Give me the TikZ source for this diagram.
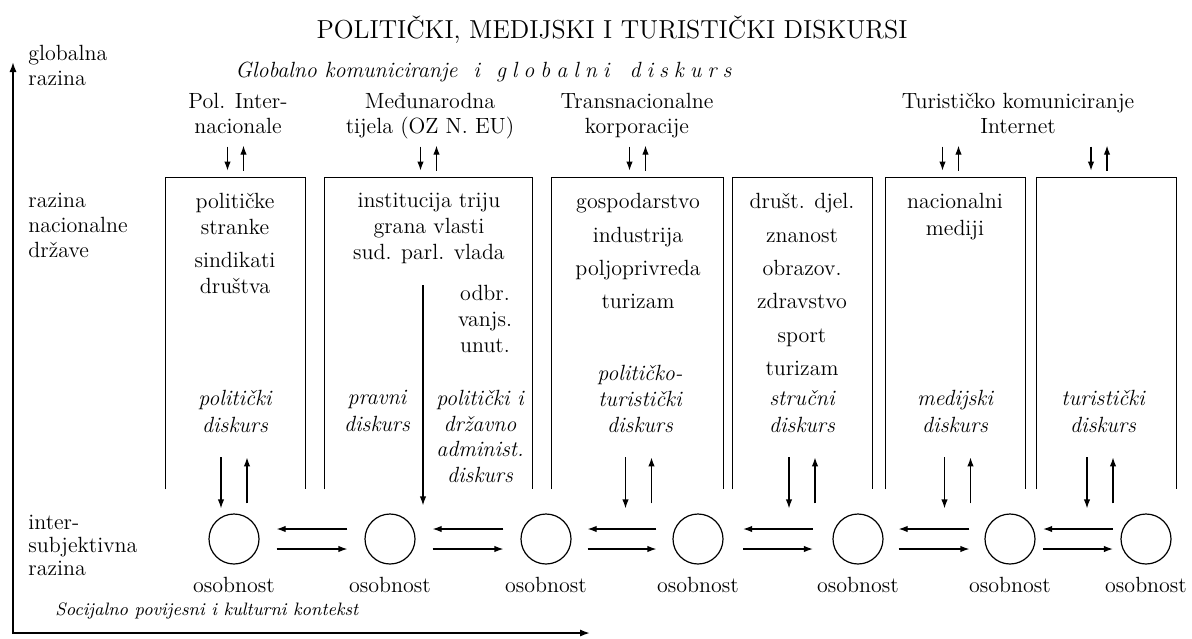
\documentclass[tikz,border=0pt]{standalone}
\usepackage{fontspec}
\usepackage{tikz}
\usetikzlibrary{arrows.meta, positioning, calc}

\begin{document}
\begin{tikzpicture}[
        x=0.5pt, y=-0.5pt,
        every node/.style={inner sep=0pt},
        txt/.style={font=\fontsize{11}{12.5}\selectfont, align=center, anchor=north},
        lefttxt/.style={font=\fontsize{11}{12.5}\selectfont, align=left, anchor=north west},
        disk/.style={font=\fontsize{11}{13.5}\selectfont\itshape, align=center, anchor=north},
        column/.style={rectangle, minimum height=155.5pt},
        person/.style={circle, draw=black, line width=0.6pt, minimum size=25pt},
        arrow/.style={-{Latex[length=4.5pt, width=3.2pt]}, line width=0.6pt},
        axis/.style={{Latex[length=5pt, width=3.6pt]}-{Latex[length=5pt, width=3.6pt]}, line width=0.9pt}
    ]
        \useasboundingbox (0,0) rectangle (1192,638);

        % Nodes
        \node[font=\fontsize{13}{15}\selectfont] (title) at (612,30) {POLITIČKI, MEDIJSKI I TURISTIČKI DISKURSI};
        \node[font=\fontsize{11}{13}\selectfont\itshape, anchor=west] (global) at (235,72)
            {Globalno komuniciranje\hspace{8pt}i\hspace{8pt}g\hspace{3pt}l\hspace{3pt}o\hspace{3pt}b\hspace{3pt}a\hspace{3pt}l\hspace{3pt}n\hspace{3pt}i\hspace{10pt}d\hspace{3pt}i\hspace{3pt}s\hspace{3pt}k\hspace{3pt}u\hspace{3pt}r\hspace{3pt}s};

        \node[lefttxt] (glob) at (28,45) {globalna\\razina};
        \node[lefttxt] (nac) at (28,193) {razina\\nacionalne\\države};
        \node[lefttxt, font=\fontsize{11}{11.5}\selectfont] (inter) at (28,515) {inter-\\subjektivna\\razina};
        \node[font=\fontsize{9}{11}\selectfont\itshape, anchor=west] (kontekst) at (55,611) {Socijalno povijesni i kulturni kontekst};

        \node[txt] (pol) at (238,93) {Pol. Inter-\\nacionale};
        \node[txt] (medj) at (430,93) {Međunarodna\\tijela (OZ N. EU)};
        \node[txt] (trans) at (637,93) {Transnacionalne\\korporacije};
        \node[txt] (turk) at (1018,93) {Turističko komuniciranje\\Internet};

        \foreach \n/\cx/\w in {b1/235.5/69.5, b2/428.5/103.5, b3/637.5/85.5, b4/802.5/69.5, b5/955.5/69.5, b6/1106.5/69.5}{
            \node[column, minimum width=\w pt] (\n) at (\cx,333.5) {};
            \draw[line width=0.6pt] (\n.south west) |- (\n.north east) -- (\n.south east);
        }

        \node[txt, font=\fontsize{11}{13}\selectfont] (b1t) at (235,193) {političke\\stranke\\[3.5pt]sindikati\\društva};
        \node[disk] (b1d) at (235,390) {politički\\diskurs};
        \node[txt, font=\fontsize{11}{13}\selectfont] (b2t) at (429,193) {institucija triju\\grana vlasti\\sud. parl. vlada};
        \node[txt, font=\fontsize{11}{13}\selectfont] (b2o) at (485,285) {odbr.\\vanjs.\\unut.};
        \node[disk] (b2p) at (377,390) {pravni\\diskurs};
        \node[disk, font=\fontsize{11}{12.8}\selectfont\itshape] (b2a) at (480,390) {politički i\\državno\\administ.\\diskurs};
        \node[txt, font=\fontsize{11}{16.7}\selectfont] (b3t) at (638,193) {gospodarstvo\\industrija\\poljoprivreda\\turizam};
        \node[disk, font=\fontsize{11}{13}\selectfont\itshape] (b3d) at (640,365) {političko-\\turistički\\diskurs};
        \node[txt, font=\fontsize{11}{16.7}\selectfont] (b4t) at (802,193) {društ. djel.\\znanost\\obrazov.\\zdravstvo\\sport\\turizam};
        \node[disk] (b4d) at (802,390) {stručni\\diskurs};
        \node[txt, font=\fontsize{11}{13.5}\selectfont] (b5t) at (955,193) {nacionalni\\mediji};
        \node[disk] (b5d) at (955,390) {medijski\\diskurs};
        \node[disk] (b6d) at (1103,390) {turistički\\diskurs};

        \foreach \n/\cx in {c1/234, c2/390, c3/546, c4/698, c5/858, c6/1010, c7/1146}{
            \node[person] (\n) at (\cx,539) {};
            \node[txt, below=6pt of \n] (\n-l) {osobnost};
        }

        % Arrows
        \coordinate (ytop) at (13,62);
        \coordinate (xend) at (590,633);
        \draw[axis] (ytop) |- (xend);

        \foreach \n/\dx in {b1/0, b2/0, b3/0, b5/-5, b6/-7.5}{
            \draw[arrow] ($(\n.north)+(\dx-8,-31)$) -- ($(\n.north)+(\dx-8,-7)$);
            \draw[arrow] ($(\n.north)+(\dx+8,-7)$) -- ($(\n.north)+(\dx+8,-32)$);
        }

        \foreach \n/\dx in {b1/-1.5, b3/1, b4/-0.5, b5/2, b6/-6.5}{
            \draw[arrow] ($(\n.south)+(\dx-13,-32)$) -- ($(\n.south)+(\dx-13,19)$);
            \draw[arrow] ($(\n.south)+(\dx+13,14)$) -- ($(\n.south)+(\dx+13,-32)$);
        }
        \draw[arrow] ($(b2.south)+(-5.5,-204)$) -- ($(b2.south)+(-5.5,16)$);

        \foreach \a/\b/\s in {c1/c2/8.5, c2/c3/8.5, c3/c4/8, c4/c5/9.75, c5/c6/7.5, c6/c7/3.75}{
            \draw[arrow, shorten <=\s pt, shorten >=\s pt] ([yshift=5pt]\b.west) -- ([yshift=5pt]\a.east);
            \draw[arrow, shorten <=\s pt, shorten >=\s pt] ([yshift=-5pt]\a.east) -- ([yshift=-5pt]\b.west);
        }
    \end{tikzpicture}
\end{document}
